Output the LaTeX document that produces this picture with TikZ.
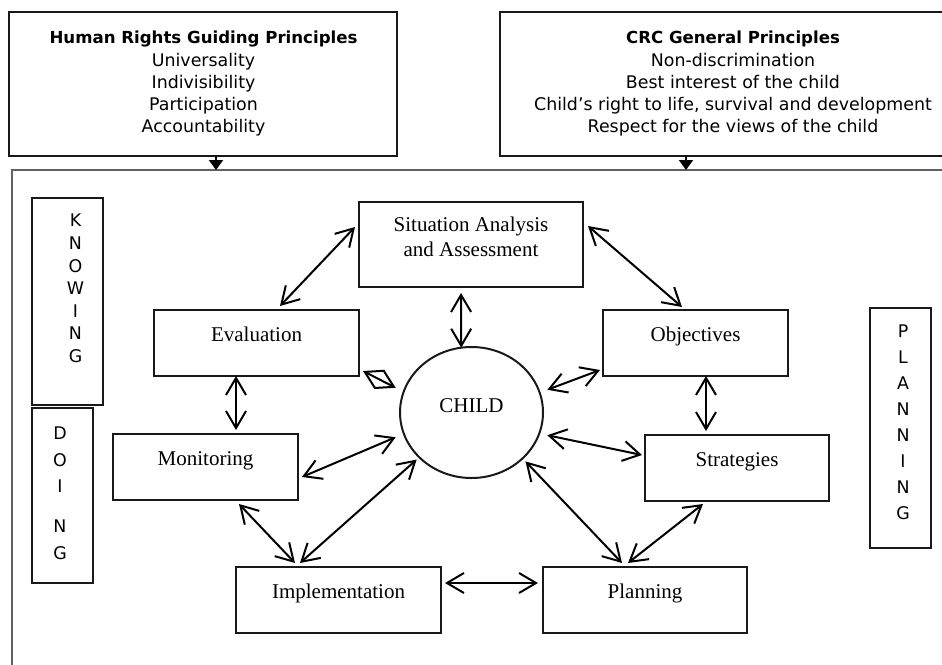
\documentclass[tikz,border=0pt]{standalone}
\usepackage{fontspec}
\setmainfont{Liberation Serif}
\newfontfamily\sansf{DejaVu Sans}
\usetikzlibrary{arrows.meta,shapes.geometric}

\begin{document}
\begin{tikzpicture}[x=0.5pt,y=-0.5pt,
  outline/.style={draw=black!90, line width=1pt, rectangle, inner sep=0pt, outer sep=0pt},
  stagebox/.style={outline, font=\fontsize{10.5}{12.5}\selectfont, text height=7pt, text depth=8.5pt},
  plaintext/.style={inner sep=0pt, outer sep=0pt, anchor=north, align=center},
  letters/.style={plaintext, font=\sansf\fontsize{8.7}{11.3}\selectfont},
  link/.style={line width=1pt, {Straight Barb[length=8.5pt,width=10pt]}-{Straight Barb[length=8.5pt,width=10pt]}},
  feed/.style={line width=1pt, -{Triangle[length=5pt,width=7pt]}},
]
\useasboundingbox (0,0) rectangle (942,664);
\clip (0,0) rectangle (942,664);

% principle boxes on top
\node[outline, minimum width=194pt, minimum height=72pt] (hr) at (203,84) {};
\node[plaintext, font=\sansf\fontsize{8.7}{11}\selectfont] (hr-t) at (203.5,30.5)
  {{\bfseries\fontsize{8.3}{11}\selectfont Human Rights Guiding Principles}\\[0.5pt]
   Universality\\ Indivisibility\\ Participation\\ Accountability};

\node[outline, minimum width=231pt, minimum height=72pt] (crc) at (731,84) {};
\node[plaintext, font=\sansf\fontsize{8.7}{11}\selectfont] (crc-t) at (733,30.5)
  {{\bfseries\fontsize{8.3}{11}\selectfont CRC General Principles}\\[0.5pt]
   Non-discrimination\\ Best interest of the child\\
   Child’s right to life, survival and development\\ Respect for the views of the child};

% surrounding frame
\node[draw=black!62, line width=1pt, rectangle, inner sep=0pt, outer sep=0pt,
      minimum width=475pt, minimum height=260pt] (frame) at (487,430) {};

\coordinate (hr-out) at ([shift={(13,0)}]hr.south);
\coordinate (crc-out) at ([shift={(-45,0)}]crc.south);
\draw[feed] (hr-out) -- (hr-out |- frame.north);
\draw[feed] (crc-out) -- (crc-out |- frame.north);

% side labels
\node[outline, minimum width=35.5pt, minimum height=103.5pt] (know) at (67.5,301.5) {};
\node[letters] (know-t) at (75.5,214.3) {K\\N\\O\\W\\I\\N\\G};

\node[outline, minimum width=30.5pt, minimum height=87.5pt] (doing) at (62.5,495.5) {};
\node[letters, font=\sansf\fontsize{8.7}{13.25}\selectfont] (doing-t) at (60,427.3) {D\\O\\I\\[6.75pt]N\\G};

\node[outline, minimum width=30.5pt, minimum height=120pt] (plan-side) at (900.5,428) {};
\node[letters, font=\sansf\fontsize{8.7}{13}\selectfont] (plan-t) at (903,325.3) {P\\L\\A\\N\\N\\I\\N\\G};

% cycle stages
\node[outline, minimum width=112pt, minimum height=42.5pt] (sit) at (471,244.5) {};
\node[plaintext, font=\fontsize{10.5}{12.5}\selectfont] (sit-t) at (471,216.5) {Situation Analysis\\and Assessment};

\node[stagebox, minimum width=102.5pt, minimum height=33pt] (eval) at (256.5,343) {Evaluation};
\node[stagebox, minimum width=92.5pt, minimum height=33pt] (obj) at (695.5,343) {Objectives};
\node[stagebox, minimum width=92.5pt, minimum height=33pt] (mon) at (205.5,467) {Monitoring};
\node[stagebox, minimum width=92pt, minimum height=33pt] (str) at (737,468) {Strategies};
\node[stagebox, minimum width=102.5pt, minimum height=33pt] (imp) at (338.5,600) {Implementation};
\node[stagebox, minimum width=102pt, minimum height=33pt] (pln) at (645,600) {Planning};

\node[draw=black!90, line width=1pt, ellipse, inner sep=0pt, outer sep=0pt,
      minimum width=71.5pt, minimum height=65.5pt,
      font=\fontsize{10.5}{12.5}\selectfont, text height=7pt, text depth=7pt] (child) at (471.5,412.5) {CHILD};

% two-way links
\draw[link] ([shift={(23.5,-4)}]eval.north) -- ([shift={(-4,-17.5)}]sit.west);
\draw[link] ([shift={(5,-18.5)}]sit.east) -- ([shift={(-13.5,-3)}]obj.north);
\draw[link] ([shift={(-10,6)}]sit.south) -- (child.99);
\draw[link] ([shift={(4,-5)}]eval.south east) -- ([shift={(-8,-4)}]child.163);
\draw[link] ([shift={(-20.5,0)}]eval.south) -- ([shift={(30.5,-4)}]mon.north);
\draw[link] ([shift={(4,10)}]mon.east) -- ([shift={(-8,4)}]child.197);
\draw[link] ([shift={(33.5,4)}]mon.south) -- ([shift={(-43.5,-4)}]imp.north);
\draw[link] ([shift={(-38.5,-4)}]imp.north) -- ([shift={(-3,2)}]child.221);
\draw[link] ([shift={(4,-17)}]imp.east) -- ([shift={(-5,-17)}]pln.west);
\draw[link] ([shift={(3,3)}]child.318) -- ([shift={(-23,-4)}]pln.north);
\draw[link] ([shift={(-17,-4)}]pln.north) -- ([shift={(-34,3)}]str.south);
\draw[link] ([shift={(8,2)}]child.343) -- ([shift={(-3,-13)}]str.west);
\draw[link] ([shift={(8,-2)}]child.17) -- ([shift={(-3,-6)}]obj.south west);
\draw[link] ([shift={(10.5,0)}]obj.south) -- ([shift={(-31,-4)}]str.north);
\end{tikzpicture}
\end{document}
